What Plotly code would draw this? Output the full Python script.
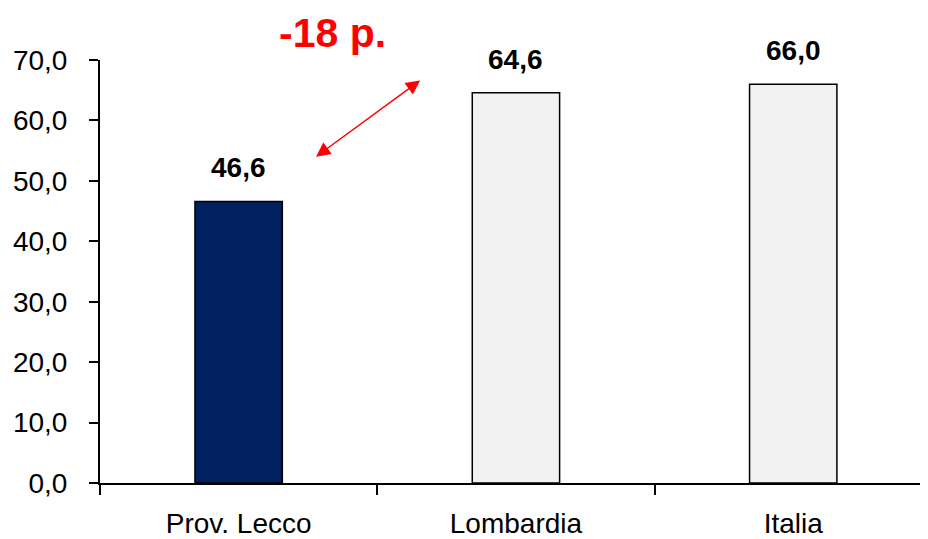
import plotly.graph_objects as go

categories = ["Prov. Lecco", "Lombardia", "Italia"]
values = [46.6, 64.6, 66.0]
value_labels = ["46,6", "64,6", "66,0"]
bar_colors = ["#002060", "#F2F2F2", "#F2F2F2"]
y_tickvals = [0, 10, 20, 30, 40, 50, 60, 70]
y_ticktext = ["0,0", "10,0", "20,0", "30,0", "40,0", "50,0", "60,0", "70,0"]
gap_label = "-18 p."

FONT = "Liberation Sans Narrow, Arial Narrow, Liberation Sans, Arial, sans-serif"

fig = go.Figure()
fig.add_trace(go.Bar(
    x=categories, y=values, width=0.315,
    marker=dict(color=bar_colors, line=dict(color="black", width=1.5)),
    cliponaxis=False, hoverinfo="skip",
))

for c, v, t in zip(categories, values, value_labels):
    fig.add_annotation(x=c, y=v, text=f"<b>{t}</b>", showarrow=False,
                       yanchor="bottom", yshift=16,
                       font=dict(family=FONT, size=28, color="black"))

# double-headed difference arrow
fig.add_annotation(x=0.279, y=54.0, ax=0.660, ay=66.8, xref="x", yref="y",
                   axref="x", ayref="y", text="", showarrow=True,
                   arrowhead=2, startarrowhead=2, arrowside="end+start",
                   arrowsize=1.9, startarrowsize=1.9,
                   arrowwidth=1.5, arrowcolor="#FF0000")
fig.add_annotation(x=0.34, y=1.064, xref="x", yref="paper", text=f"<b>{gap_label}</b>",
                   showarrow=False, yanchor="middle",
                   font=dict(family=FONT, size=41, color="#FF0000"))

fig.update_layout(
    width=920, height=531,
    margin=dict(l=92, r=0, t=52, b=56, autoexpand=False),
    paper_bgcolor="white", plot_bgcolor="white",
    showlegend=False,
    font=dict(family=FONT, size=28, color="black"),
)
fig.update_xaxes(
    type="category", range=[-0.5, 2.486], automargin=False,
    showline=True, linecolor="black", linewidth=2,
    ticks="outside", tickson="boundaries", ticklen=10, tickwidth=2, tickcolor="black",
    tickfont=dict(family=FONT, size=28), ticklabelstandoff=14,
    showgrid=False, zeroline=False,
)
fig.update_yaxes(
    range=[0, 70], tickvals=y_tickvals, ticktext=y_ticktext, automargin=False,
    showline=True, linecolor="black", linewidth=2,
    ticks="outside", ticklen=9, tickwidth=2, tickcolor="black",
    tickfont=dict(family=FONT, size=28), ticklabelstandoff=16,
    showgrid=False, zeroline=False,
)

fig.write_html("out.html")
